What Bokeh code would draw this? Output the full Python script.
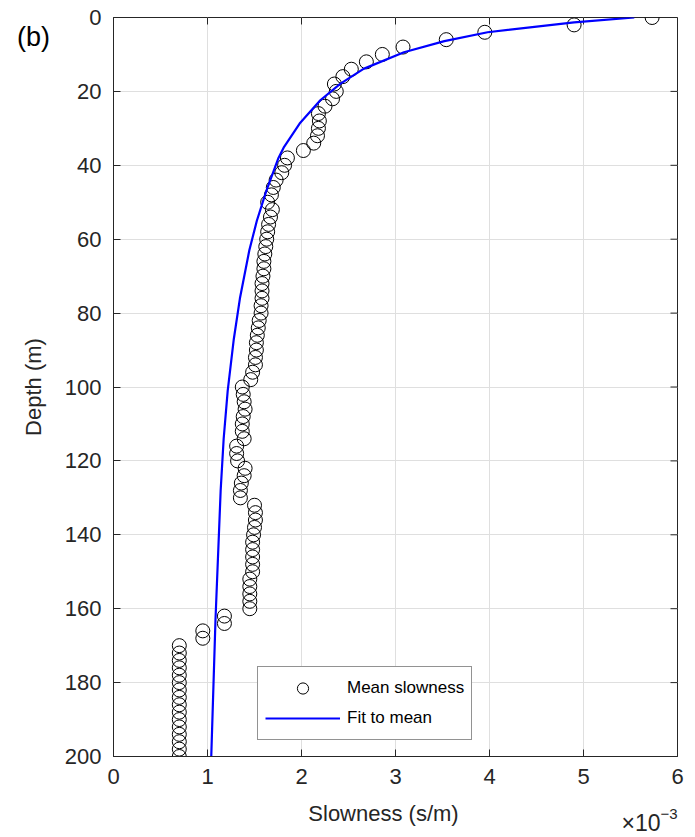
import math
from bokeh.plotting import figure
from bokeh.models import Range1d, FixedTicker, Legend, LegendItem, Label
from bokeh.embed import file_html
from bokeh.resources import INLINE

# Mean slowness samples (depth in m, slowness in units of 1e-3 s/m)
depth = [0, 2, 4, 6, 8, 10, 12, 14, 16, 18, 20, 22, 24, 26, 28, 30, 32, 34, 36, 38,
         40, 42, 44, 46, 48, 50, 52, 54, 56, 58, 60, 62, 64, 66, 68, 70, 72, 74, 76, 78,
         80, 82, 84, 86, 88, 90, 92, 94, 96, 98, 100, 102, 104, 106, 108, 110, 112, 114, 116, 118,
         120, 122, 124, 126, 128, 130, 132, 134, 136, 138, 140, 142, 144, 146, 148, 150, 152, 154, 156, 158,
         160, 162, 164, 166, 168, 170, 172, 174, 176, 178, 180, 182, 184, 186, 188, 190, 192, 194, 196, 198, 200]
slowness = [5.73, 4.90, 3.95, 3.54, 3.08, 2.86, 2.69, 2.53, 2.44, 2.35, 2.37, 2.33, 2.25, 2.18, 2.19, 2.18, 2.17, 2.13, 2.02, 1.85,
            1.82, 1.79, 1.73, 1.70, 1.68, 1.64, 1.69, 1.67, 1.65, 1.64, 1.63, 1.62, 1.61, 1.60, 1.60, 1.59, 1.58, 1.58, 1.58, 1.57,
            1.57, 1.55, 1.54, 1.53, 1.52, 1.52, 1.51, 1.51, 1.48, 1.46, 1.37, 1.38, 1.39, 1.40, 1.38, 1.37, 1.37, 1.39, 1.31, 1.31,
            1.32, 1.40, 1.39, 1.36, 1.35, 1.35, 1.50, 1.51, 1.51, 1.50, 1.49, 1.48, 1.48, 1.48, 1.48, 1.48, 1.45, 1.45, 1.45, 1.45,
            1.45, 1.18, 1.18, 0.95, 0.95, 0.70, 0.70, 0.70, 0.70, 0.70, 0.70, 0.70, 0.70, 0.70, 0.70, 0.70, 0.70, 0.70, 0.70, 0.70, 0.70]

# Fit to mean
fit_depth = [0, 1.3, 4, 6.4, 9.4, 13.9, 17.9, 22.4, 28.7, 35, 38, 47, 55, 63, 76, 87, 101, 114, 128, 163, 200]
fit_slowness = [5.54, 4.90, 3.98, 3.52, 3.09, 2.66, 2.415, 2.20, 1.98, 1.815, 1.755, 1.625, 1.525, 1.445, 1.345,
                1.28, 1.215, 1.172, 1.14, 1.085, 1.04]

x_ticks = [0, 1, 2, 3, 4, 5, 6]
y_ticks = [0, 20, 40, 60, 80, 100, 120, 140, 160, 180, 200]

FONT = "Liberation Sans"
AX = "#262626"
GRID = "#dfdfdf"

X0, X1, Y0, Y1 = 0, 6, 200, 0
FW, FH = 564, 740            # frame size in px
DXP = (X1 - X0) / FW         # data per px
DYP = (Y0 - Y1) / FH
TICK = 7

p = figure(width=695, height=837, output_backend="svg", toolbar_location=None,
           x_range=Range1d(X0, X1), y_range=Range1d(Y0, Y1),
           min_border_left=113, min_border_right=18, min_border_top=17, min_border_bottom=80)
p.outline_line_color = AX
p.outline_line_width = 1
p.background_fill_color = "white"
p.border_fill_color = "white"

for ax in (p.xaxis[0], p.yaxis[0]):
    ax.major_tick_in = TICK
    ax.major_tick_out = 0
    ax.minor_tick_in = 0
    ax.minor_tick_out = 0
    ax.axis_line_color = AX
    ax.major_tick_line_color = AX
    ax.major_label_text_color = AX
    ax.major_label_text_font = FONT
    ax.major_label_text_font_size = "22px"

p.xaxis[0].ticker = FixedTicker(ticks=x_ticks)
p.yaxis[0].ticker = FixedTicker(ticks=y_ticks)
p.xaxis[0].major_label_standoff = 12
p.yaxis[0].major_label_standoff = 12

p.xgrid.ticker = FixedTicker(ticks=x_ticks)
p.ygrid.ticker = FixedTicker(ticks=y_ticks)
p.xgrid.grid_line_color = GRID
p.ygrid.grid_line_color = GRID

# inward ticks on the top and right edges of the box
p.segment(x0=x_ticks, y0=[Y1] * len(x_ticks), x1=x_ticks, y1=[Y1 + TICK * DYP] * len(x_ticks),
          line_color=AX, line_width=1)
p.segment(x0=[X1] * len(y_ticks), y0=y_ticks, x1=[X1 - TICK * DXP] * len(y_ticks), y1=y_ticks,
          line_color=AX, line_width=1)

r_pts = p.scatter(slowness, depth, marker="circle", size=14, fill_color=None,
                  line_color="black", line_width=1)
r_fit = p.line(fit_slowness, fit_depth, line_color="#0000ff", line_width=2.2)

legend = Legend(items=[LegendItem(label="Mean slowness", renderers=[r_pts]),
                       LegendItem(label="Fit to mean", renderers=[r_fit])],
                location=(144, 16), border_line_color=AX, border_line_width=1,
                padding=7, spacing=2, glyph_width=75, glyph_height=28, label_height=28,
                label_standoff=7, label_text_font=FONT, label_text_font_size="17px",
                label_text_color="black", background_fill_alpha=1, margin=0)
p.add_layout(legend, "center")

# texts outside the frame (side panels are not clipped); placed in data coordinates
p.add_layout(Label(x=X0 - 80 * DXP, y=Y1 + 20 * DYP, text="(b)", text_font=FONT,
                   text_font_size="27px", text_align="center", text_baseline="middle",
                   text_color="black"), "left")
p.add_layout(Label(x=X0 - 80 * DXP, y=100, text="Depth (m)", text_font=FONT, angle=math.pi / 2,
                   text_font_size="22px", text_align="center", text_baseline="middle",
                   text_color=AX), "left")
p.add_layout(Label(x=X0 + 270 * DXP, y=Y0 + 57 * DYP, text="Slowness (s/m)", text_font=FONT,
                   text_font_size="22px", text_align="center", text_baseline="middle",
                   text_color=AX), "below")
p.add_layout(Label(x=X0 + 547 * DXP, y=Y0 + 67 * DYP, text="\u00d710", text_font=FONT,
                   text_font_size="23px", text_align="right", text_baseline="middle",
                   text_color=AX), "below")
p.add_layout(Label(x=X0 + 547 * DXP, y=Y0 + 58 * DYP, text="\u22123", text_font=FONT,
                   text_font_size="15px", text_align="left", text_baseline="middle",
                   text_color=AX), "right")

open("out.html", "w").write(file_html(p, INLINE))
